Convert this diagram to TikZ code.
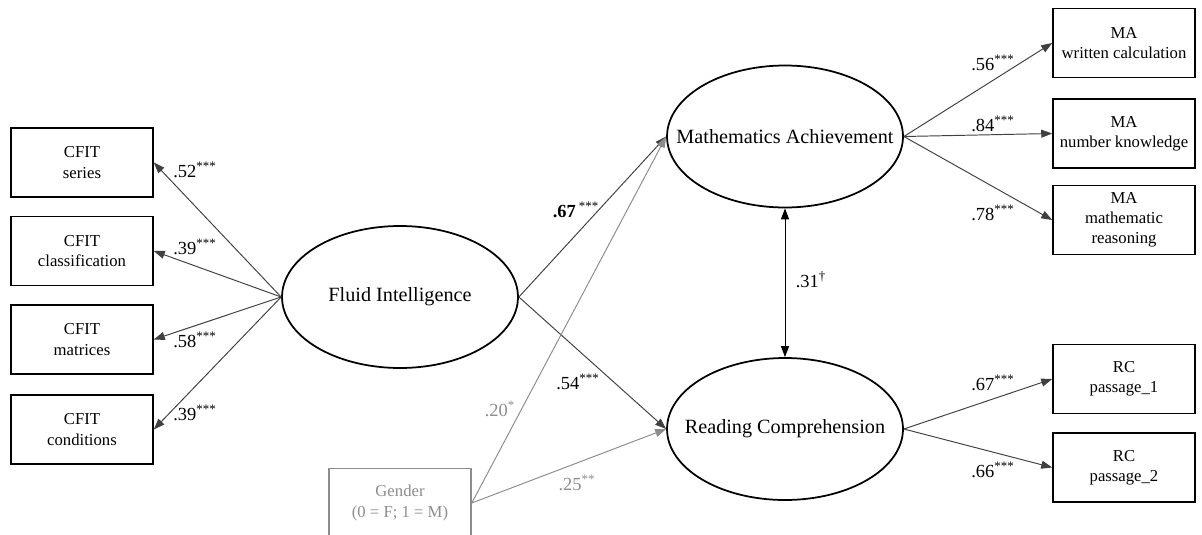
\documentclass[tikz,border=0pt]{standalone}
\usepackage{fontspec}
\setmainfont{Liberation Serif}
\usetikzlibrary{arrows.meta,shapes.geometric}
\definecolor{gendergray}{RGB}{140,140,140}
\newcommand{\latname}[1]{\makebox[2.6cm]{#1}}
\begin{document}
\begin{tikzpicture}[x=0.02cm, y=-0.02cm, >={Triangle[length=2.2mm,width=1.6mm]},
  obs/.style={draw, line width=0.9pt, rectangle, minimum width=2.84cm, minimum height=1.38cm, align=center, font=\fontsize{9.5}{11.5}\selectfont},
  latent/.style={draw, line width=1pt, ellipse, minimum width=4.72cm, minimum height=2.84cm, inner sep=0pt, font=\fontsize{11.5}{13}\selectfont},
  path/.style={->, line width=0.55pt, draw=black!75},
  lbl/.style={font=\fontsize{10.5}{12}\selectfont}]
\useasboundingbox (0,0) rectangle (1202,534);
\clip (0,0) rectangle (1202,534);

\node[obs] (series) at (82,162.5) {CFIT\\series};
\node[obs] (class) at (82,251) {CFIT\\classification};
\node[obs] (matr) at (82,339.5) {CFIT\\matrices};
\node[obs] (cond) at (82,429.5) {CFIT\\conditions};

\node[latent] (fi) at (400,297) {\latname{Fluid Intelligence}};
\node[latent] (ma) at (785,136.5) {\latname{Mathematics Achievement}};
\node[latent] (rc) at (785,429) {\latname{Reading Comprehension}};

\node[obs, draw=gendergray, text=gendergray] (gender) at (400,503) {Gender\\(0 = F; 1 = M)};

\node[obs] (wc) at (1124,43) {MA\\written calculation};
\node[obs] (nk) at (1124,133.5) {MA\\number knowledge};
\node[obs] (mr) at (1124,220) {MA\\mathematic\\reasoning};
\node[obs] (p1) at (1124,379) {RC\\passage\_1};
\node[obs] (p2) at (1124,467.5) {RC\\passage\_2};

% loadings of fluid intelligence
\draw[path] (fi.west) -- (series.east);
\draw[path] (fi.west) -- (class.east);
\draw[path] (fi.west) -- (matr.east);
\draw[path] (fi.west) -- (cond.east);

% structural paths
\draw[path] (fi.east) -- (ma.west);
\draw[path] (fi.east) -- (rc.west);
\draw[path, draw=gendergray] (gender.east) -- (ma.west);
\draw[path, draw=gendergray] (gender.east) -- (rc.west);
\draw[<->, line width=0.55pt] (ma.south) -- (rc.north);

% loadings of the outcomes
\draw[path] (ma.east) -- (wc.west);
\draw[path] (ma.east) -- (nk.west);
\draw[path] (ma.east) -- (mr.west);
\draw[path] (rc.east) -- (p1.west);
\draw[path] (rc.east) -- (p2.west);

\node[lbl] (l1) at (195,170) {.52\textsuperscript{***}};
\node[lbl] (l2) at (195,247) {.39\textsuperscript{***}};
\node[lbl] (l3) at (195,340) {.58\textsuperscript{***}};
\node[lbl] (l4) at (195,413) {.39\textsuperscript{***}};
\node[lbl] (l5) at (576,210) {\textbf{.67}\,\textsuperscript{***}};
\node[lbl] (l6) at (578,382) {.54\textsuperscript{***}};
\node[lbl, text=gendergray] (l7) at (500,409) {.20\textsuperscript{*}};
\node[lbl, text=gendergray] (l8) at (577,483) {.25\textsuperscript{**}};
\node[lbl] (l9) at (811,280) {.31\textsuperscript{\textdagger}};
\node[lbl] (l10) at (993,63) {.56\textsuperscript{***}};
\node[lbl] (l11) at (993,124) {.84\textsuperscript{***}};
\node[lbl] (l12) at (993,213) {.78\textsuperscript{***}};
\node[lbl] (l13) at (993,383) {.67\textsuperscript{***}};
\node[lbl] (l14) at (993,470) {.66\textsuperscript{***}};
\end{tikzpicture}
\end{document}
